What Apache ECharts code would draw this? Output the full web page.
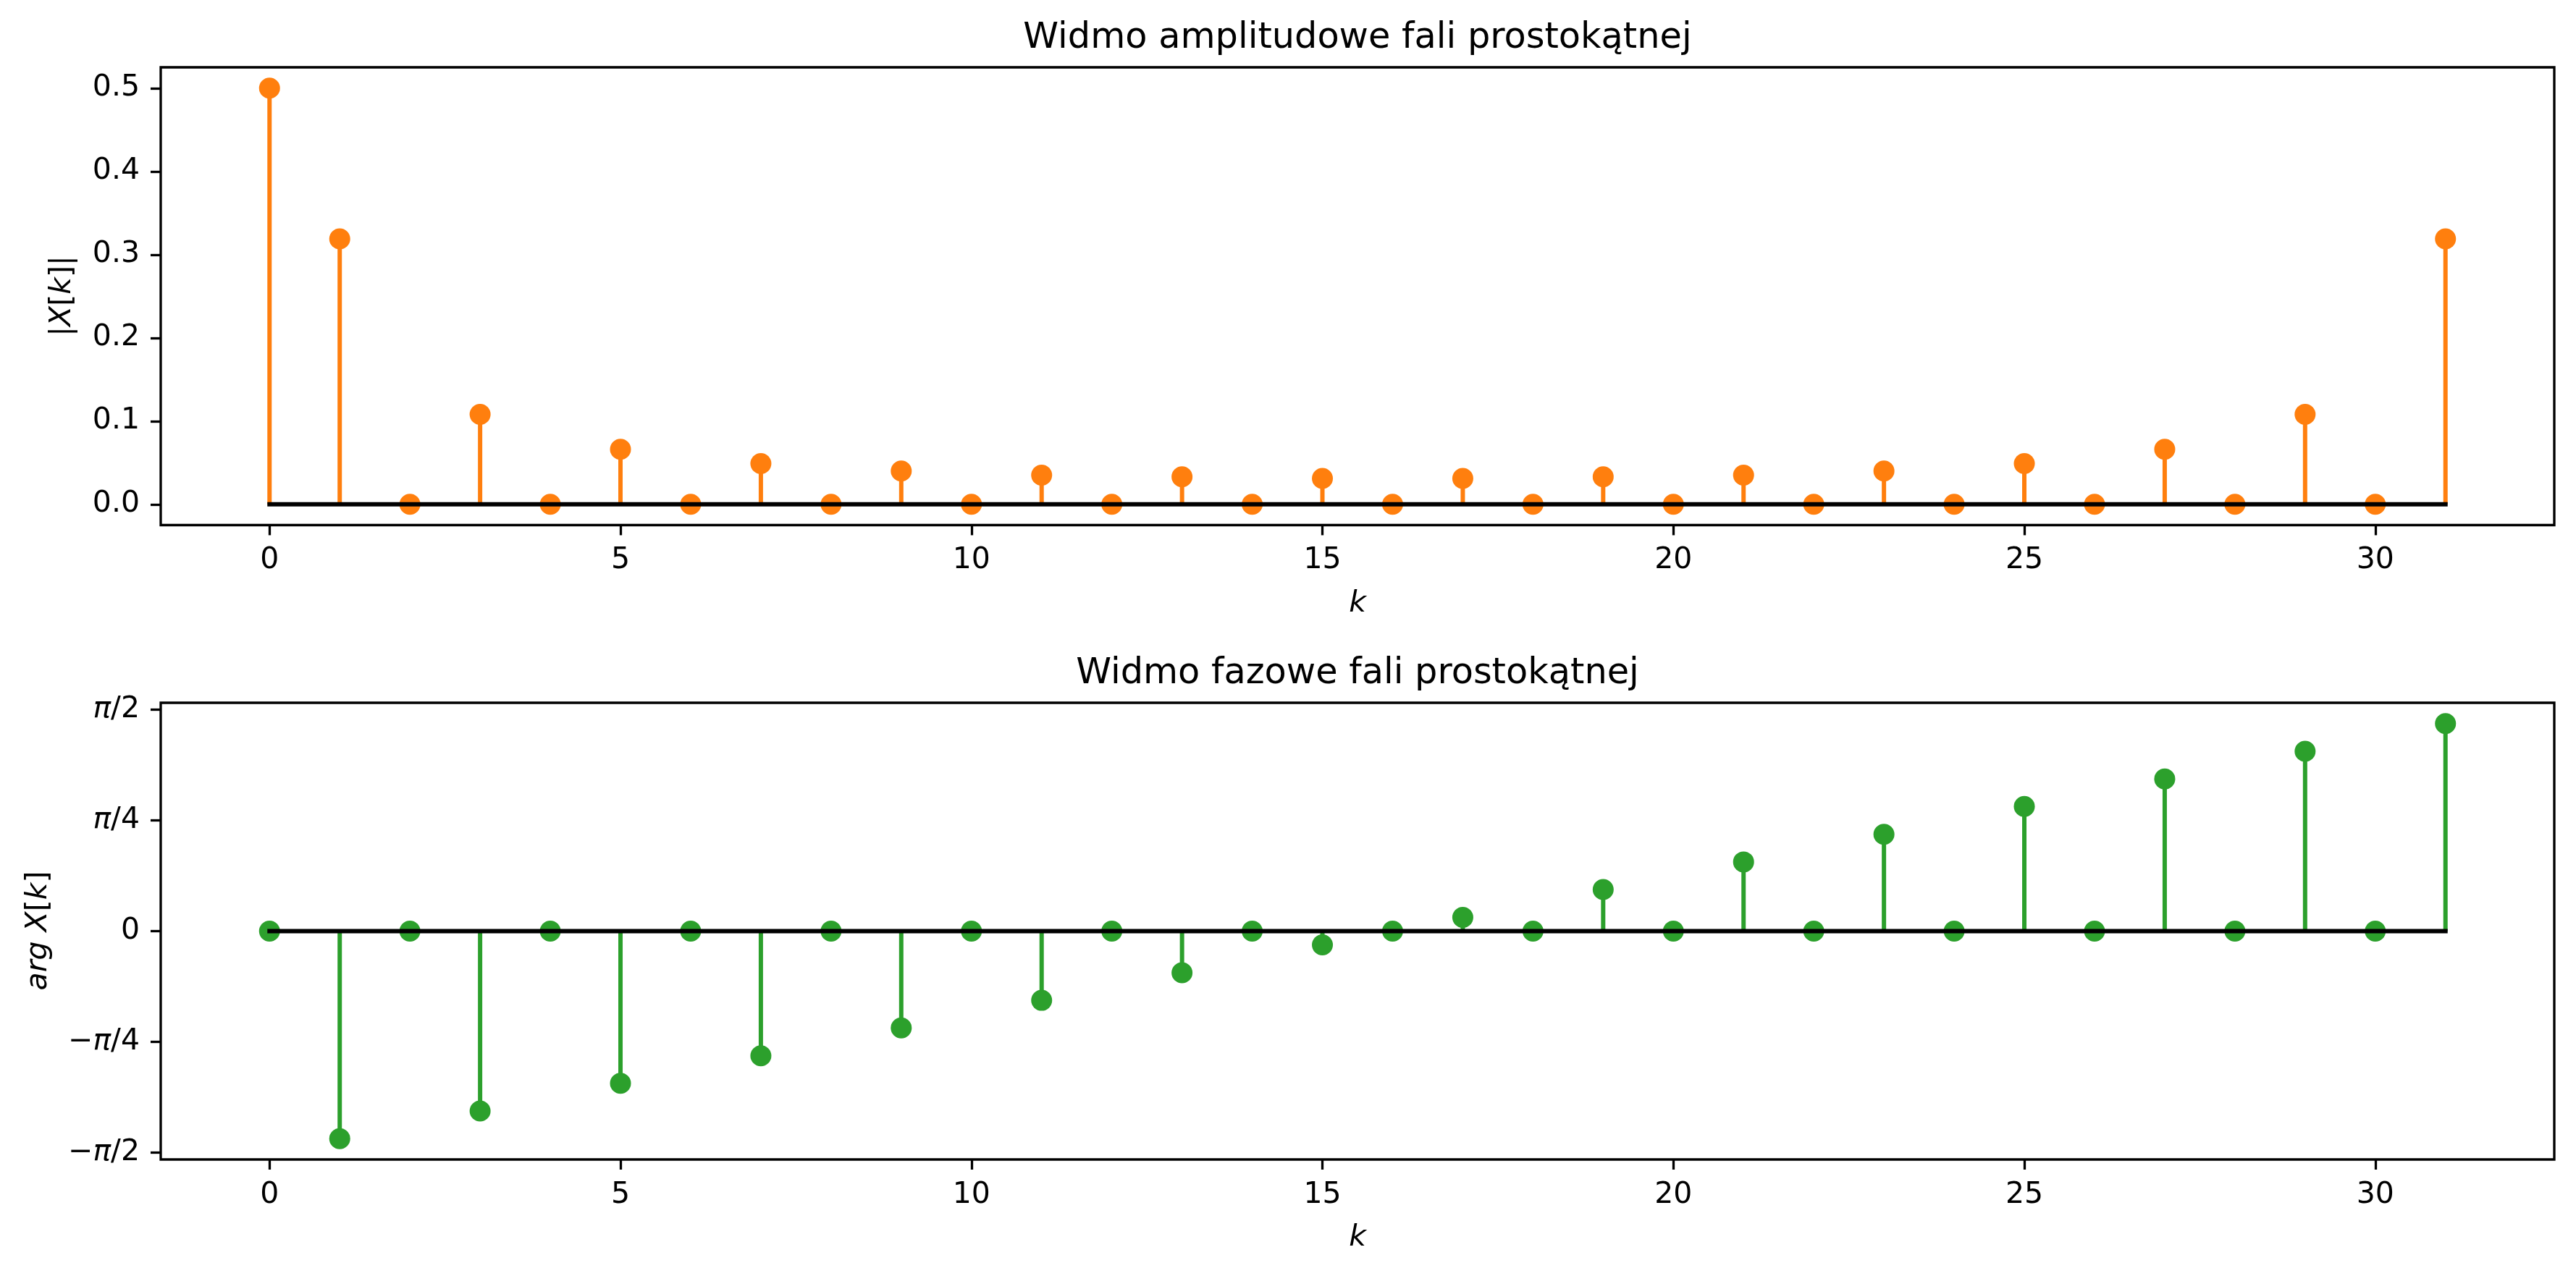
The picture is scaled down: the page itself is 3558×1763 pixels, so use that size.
<!DOCTYPE html>
<html>
<head>
<meta charset="utf-8">
<script src="https://cdn.jsdelivr.net/npm/echarts@6/dist/echarts.min.js"></script>
<style>
html,body{margin:0;padding:0;background:#fff;}
#chart{width:3558px;height:1763px;}
</style>
</head>
<body>
<div id="chart"></div>
<script>
// ---- data ----
const ks = [0,1,2,3,4,5,6,7,8,9,10,11,12,13,14,15,16,17,18,19,20,21,22,23,24,25,26,27,28,29,30,31];
const amplitude = [0.5,0.319,0,0.108,0,0.066,0,0.049,0,0.040,0,0.035,0,0.033,0,0.031,0,0.031,0,0.033,0,0.035,0,0.040,0,0.049,0,0.066,0,0.108,0,0.319];
const phase = [0,-1.473,0,-1.276,0,-1.080,0,-0.884,0,-0.687,0,-0.491,0,-0.295,0,-0.098,0,0.098,0,0.295,0,0.491,0,0.687,0,0.884,0,1.080,0,1.276,0,1.473];
const xTicks = [0,5,10,15,20,25,30];
const ampTicks = [0,0.1,0.2,0.3,0.4,0.5];
const phaseTickValues = [-Math.PI/2,-Math.PI/4,0,Math.PI/4,Math.PI/2];
const phaseTickLabels = ['{n|\u2212}{i|\u03c0}{n|/2}','{n|\u2212}{i|\u03c0}{n|/4}','{n|0}','{i|\u03c0}{n|/4}','{i|\u03c0}{n|/2}'];
const titleTop = 'Widmo amplitudowe fali prostokątnej';
const titleBottom = 'Widmo fazowe fali prostokątnej';
const ORANGE = '#ff7f0e', GREEN = '#2ca02c';

const FONT = 'DejaVu Sans';
const TICK_FS = 41, TITLE_FS = 49.4;

const chart = echarts.init(document.getElementById('chart'), null, {renderer:'canvas'});

function pairs(ys){ return ks.map((k,i)=>[k, ys[i]]); }

function stemSeries(idx, ys, color){
  return {
    type:'custom', xAxisIndex:idx, yAxisIndex:idx, z:2, silent:true,
    data: pairs(ys),
    renderItem:(params, api)=>{
      const k = api.value(0), v = api.value(1);
      const p0 = api.coord([k,0]), p1 = api.coord([k,v]);
      return {type:'line', shape:{x1:p0[0],y1:p0[1],x2:p1[0],y2:p1[1]},
              style:{stroke:color, lineWidth:6, lineCap:'butt'}};
    }
  };
}
function markerSeries(idx, ys, color){
  return {type:'scatter', xAxisIndex:idx, yAxisIndex:idx, z:3, silent:true,
    symbol:'circle', symbolSize:29, itemStyle:{color:color, opacity:1},
    data: pairs(ys)};
}
function baseSeries(idx){
  return {type:'line', xAxisIndex:idx, yAxisIndex:idx, z:4, silent:true, symbol:'none',
    lineStyle:{color:'#000', width:6, cap:'square'},
    data:[[ks[0],0],[ks[ks.length-1],0]]};
}
const richTick = {
  n:{fontFamily:FONT, fontSize:TICK_FS, color:'#000'},
  i:{fontFamily:FONT, fontSize:TICK_FS, color:'#000', fontStyle:'italic'}
};
function xAxis(idx){
  return {type:'value', gridIndex:idx, min:-1.55, max:32.55, position:'bottom',
    axisLine:{show:false, onZero:false}, splitLine:{show:false},
    axisTick:{show:true, inside:false, length:14, lineStyle:{color:'#000', width:3.3}, customValues:xTicks},
    axisLabel:{show:true, margin:28.5, fontFamily:FONT, fontSize:TICK_FS, color:'#000', customValues:xTicks,
      formatter:(v)=>String(Math.round(v))}
  };
}

const option = {
  backgroundColor:'#fff',
  animation:false,
  grid:[
    {left:222, top:93, width:3306, height:632.5, show:true, borderColor:'#000', borderWidth:3.3, backgroundColor:'transparent'},
    {left:222, top:971, width:3306, height:631, show:true, borderColor:'#000', borderWidth:3.3, backgroundColor:'transparent'}
  ],
  xAxis:[xAxis(0), xAxis(1)],
  yAxis:[
    {type:'value', gridIndex:0, min:-0.025, max:0.525, position:'left',
      axisLine:{show:false, onZero:false}, splitLine:{show:false},
      axisTick:{show:true, length:14, lineStyle:{color:'#000', width:3.3}, customValues:ampTicks},
      axisLabel:{margin:29, fontFamily:FONT, fontSize:TICK_FS, color:'#000', customValues:ampTicks,
        formatter:(v)=>v.toFixed(1)}},
    {type:'value', gridIndex:1, min:-1.62, max:1.62, position:'left',
      axisLine:{show:false, onZero:false}, splitLine:{show:false},
      axisTick:{show:true, length:14, lineStyle:{color:'#000', width:3.3}, customValues:phaseTickValues},
      axisLabel:{margin:29, fontFamily:FONT, fontSize:TICK_FS, color:'#000', customValues:phaseTickValues, rich:richTick,
        formatter:(v)=>{const i = phaseTickValues.findIndex(t=>Math.abs(t-v)<1e-6); return i>=0 ? phaseTickLabels[i] : '';}}}
  ],
  series:[
    stemSeries(0, amplitude, ORANGE), markerSeries(0, amplitude, ORANGE), baseSeries(0),
    stemSeries(1, phase, GREEN), markerSeries(1, phase, GREEN), baseSeries(1)
  ],
  graphic:[
    {type:'text', x:1875, y:53.6, style:{text:titleTop, font:`${TITLE_FS}px "${FONT}"`, fill:'#000', align:'center', verticalAlign:'middle'}},
    {type:'text', x:1875, y:931.6, style:{text:titleBottom, font:`${TITLE_FS}px "${FONT}"`, fill:'#000', align:'center', verticalAlign:'middle'}},
    {type:'text', x:1875, y:834, style:{text:'k', font:`italic ${TICK_FS}px "${FONT}"`, fill:'#000', align:'center', verticalAlign:'middle'}},
    {type:'text', x:1875, y:1710, style:{text:'k', font:`italic ${TICK_FS}px "${FONT}"`, fill:'#000', align:'center', verticalAlign:'middle'}},
    {type:'text', x:86, y:409, rotation:Math.PI/2,
      style:{text:'{n||}{i|X}{n|[}{i|k}{n|]|}', rich:richTick, font:`${TICK_FS}px "${FONT}"`, fill:'#000', align:'center', verticalAlign:'middle'}},
    {type:'text', x:53, y:1286, rotation:Math.PI/2,
      style:{text:'{i|arg X}{n|[}{i|k}{n|]}', rich:richTick, font:`${TICK_FS}px "${FONT}"`, fill:'#000', align:'center', verticalAlign:'middle'}}
  ]
};
chart.setOption(option);
</script>
</body>
</html>
